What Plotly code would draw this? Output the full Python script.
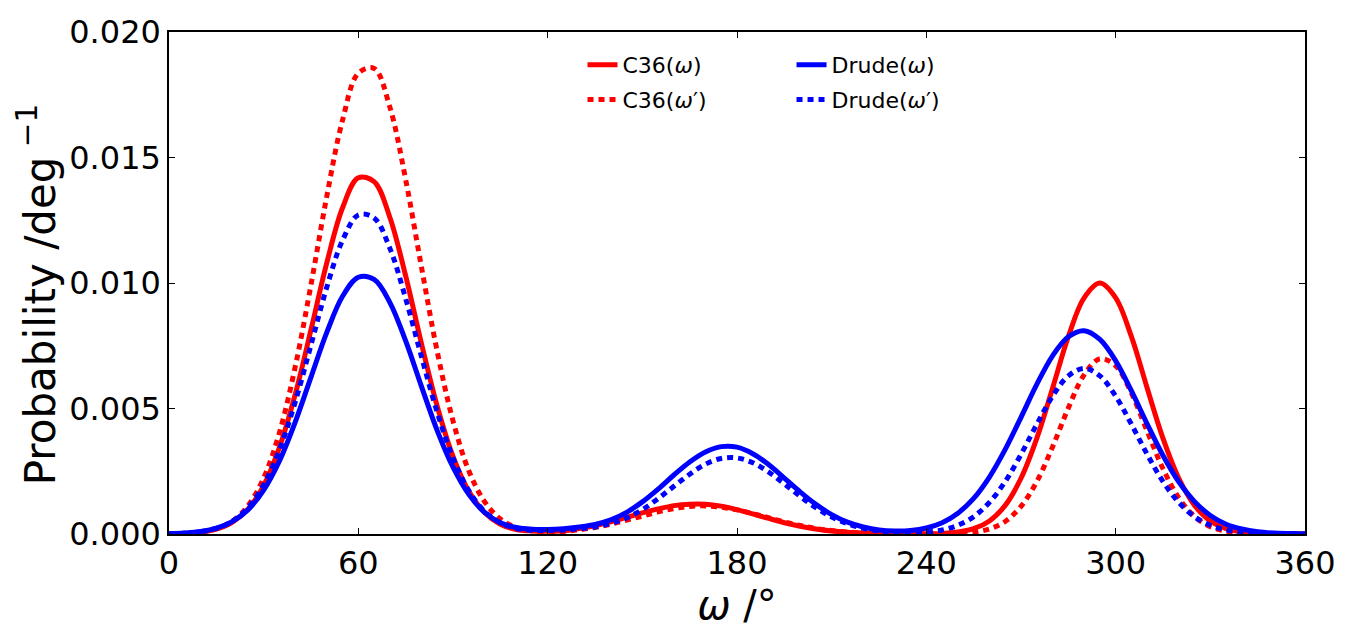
import plotly.graph_objects as go

# Dihedral angle grid (degrees)
omega = list(range(0, 361, 5))

# Probability densities (per degree)
c36_w = [0.00001, 0.00002, 0.00007, 0.00019, 0.00046, 0.00099, 0.00193, 0.00345, 0.00556, 0.00814,
         0.0108, 0.0130, 0.01419, 0.01404, 0.01261, 0.01028, 0.00759, 0.00509, 0.00309, 0.0017,
         0.00086, 0.00039, 0.00018, 0.00012, 0.00011, 0.00013, 0.00022, 0.00033, 0.00048, 0.00066,
         0.00084, 0.0010, 0.00113, 0.00119, 0.00119, 0.00111, 0.00097, 0.0008, 0.00062, 0.00045,
         0.00031, 0.0002, 0.00012, 0.00007, 0.00004, 0.00002, 0.00001, 0.00001, 0.00001, 0.00002,
         0.00008, 0.00021, 0.00052, 0.00114, 0.00222, 0.00381, 0.00581, 0.00786, 0.00941, 0.0100,
         0.00941, 0.00786, 0.00581, 0.00381, 0.00222, 0.00114, 0.00052, 0.00021, 0.00008, 0.00002,
         0.00001, 0.0, 0.0]

c36_wp = [0.00001, 0.00003, 0.00008, 0.00021, 0.0005, 0.00112, 0.00223, 0.00404, 0.00666, 0.00993,
          0.01345, 0.01649, 0.01836, 0.01855, 0.017, 0.01412, 0.01064, 0.00727, 0.00451, 0.00252,
          0.00129, 0.0006, 0.00026, 0.00013, 0.00009, 0.0001, 0.00017, 0.00026, 0.00039, 0.00055,
          0.00071, 0.00088, 0.00101, 0.0011, 0.00112, 0.00107, 0.00096, 0.00081, 0.00065, 0.00048,
          0.00034, 0.00022, 0.00014, 0.00008, 0.00004, 0.00002, 0.00001, 0.0, 0.0, 0.00001,
          0.00002, 0.00007, 0.0002, 0.0005, 0.0011, 0.00209, 0.00347, 0.00502, 0.00634, 0.00698,
          0.0067, 0.00561, 0.00409, 0.0026, 0.00144, 0.0007, 0.00029, 0.00011, 0.00003, 0.00001,
          0.0, 0.0, 0.0]

drude_w = [0.00001, 0.00004, 0.0001, 0.00023, 0.00049, 0.00096, 0.00175, 0.00291, 0.00446, 0.00625,
           0.00803, 0.00947, 0.01023, 0.01014, 0.00922, 0.00769, 0.00588, 0.00412, 0.00266, 0.00158,
           0.00086, 0.00045, 0.00026, 0.00019, 0.00018, 0.00021, 0.00028, 0.00038, 0.00056, 0.00086,
           0.00128, 0.00179, 0.00235, 0.00287, 0.00327, 0.00348, 0.00346, 0.0032, 0.00277, 0.00223,
           0.00168, 0.00118, 0.00077, 0.00047, 0.00028, 0.00016, 0.00012, 0.00014, 0.00024, 0.00045,
           0.00083, 0.00142, 0.00227, 0.00337, 0.00465, 0.00596, 0.0071, 0.00786, 0.0081, 0.00775,
           0.0069, 0.0057, 0.00438, 0.00313, 0.00208, 0.00129, 0.00074, 0.00039, 0.0002, 0.00009,
           0.00004, 0.00002, 0.00001]

drude_wp = [0.00001, 0.00003, 0.00009, 0.00022, 0.0005, 0.00104, 0.00195, 0.00335, 0.00526, 0.00753,
            0.00983, 0.0117, 0.01271, 0.01259, 0.01138, 0.00938, 0.00707, 0.00485, 0.00303, 0.00173,
            0.0009, 0.00045, 0.00022, 0.00015, 0.00014, 0.00016, 0.00021, 0.00028, 0.00042, 0.00064,
            0.00097, 0.00141, 0.0019, 0.00238, 0.00278, 0.00301, 0.00303, 0.00284, 0.00247, 0.002,
            0.0015, 0.00105, 0.00068, 0.00041, 0.00023, 0.00012, 0.00007, 0.00006, 0.00008, 0.00016,
            0.00035, 0.00069, 0.00126, 0.00209, 0.00317, 0.00437, 0.00549, 0.0063, 0.0066, 0.0063,
            0.00549, 0.00437, 0.00317, 0.00209, 0.00126, 0.00069, 0.00035, 0.00016, 0.00007, 0.00003,
            0.00001, 0.0, 0.0]

x_ticks = [0, 60, 120, 180, 240, 300, 360]
y_ticks = [0.000, 0.005, 0.010, 0.015, 0.020]

series = [
    ("C36(<i>ω</i>)", c36_w, "#ff0000", "solid", "legend"),
    ("C36(<i>ω</i>′)", c36_wp, "#ff0000", "6px,5px", "legend"),
    ("Drude(<i>ω</i>)", drude_w, "#0000ff", "solid", "legend2"),
    ("Drude(<i>ω</i>′)", drude_wp, "#0000ff", "6px,5px", "legend2"),
]

FONT = "DejaVu Sans"
fig = go.Figure()
for i, (name, vals, col, dash, leg) in enumerate(series):
    fig.add_trace(go.Scatter(
        x=omega, y=vals, mode="lines", name=name,
        line=dict(color=col, width=5, dash=dash, shape="spline", smoothing=1.0),
        legend=leg, legendgroup=f"g{i}",
    ))

axis_common = dict(
    showline=True, linecolor="black", linewidth=1.5, mirror="ticks",
    ticks="inside", ticklen=6, tickcolor="black", tickwidth=1,
    showgrid=False, zeroline=False,
    tickfont=dict(family=FONT, size=32, color="black"),
)

fig.update_layout(
    width=1348, height=628,
    margin=dict(l=169, r=37, t=32, b=89),
    paper_bgcolor="white", plot_bgcolor="white",
    font=dict(family=FONT, color="black"),
    xaxis=dict(range=[0, 360], tickvals=x_ticks, ticktext=[str(v) for v in x_ticks],
               title=dict(text="<i>ω</i> /°", font=dict(family=FONT, size=40), standoff=6),
               **axis_common),
    yaxis=dict(range=[0, 0.020], tickvals=y_ticks, tickformat=".3f", **axis_common),
    legend=dict(x=0.364, y=0.976, xanchor="left", yanchor="top", bgcolor="rgba(0,0,0,0)",
                font=dict(family=FONT, size=22), tracegroupgap=3),
    legend2=dict(x=0.548, y=0.976, xanchor="left", yanchor="top", bgcolor="rgba(0,0,0,0)",
                 font=dict(family=FONT, size=22), tracegroupgap=3),
    showlegend=True,
    annotations=[dict(
        text="Probability /deg<sup> −1</sup>", textangle=-90, showarrow=False,
        xref="paper", yref="paper", x=-0.1156, y=0.477, xanchor="center", yanchor="middle",
        font=dict(family=FONT, size=42, color="black"),
    )],
)

fig.write_html("out.html")
